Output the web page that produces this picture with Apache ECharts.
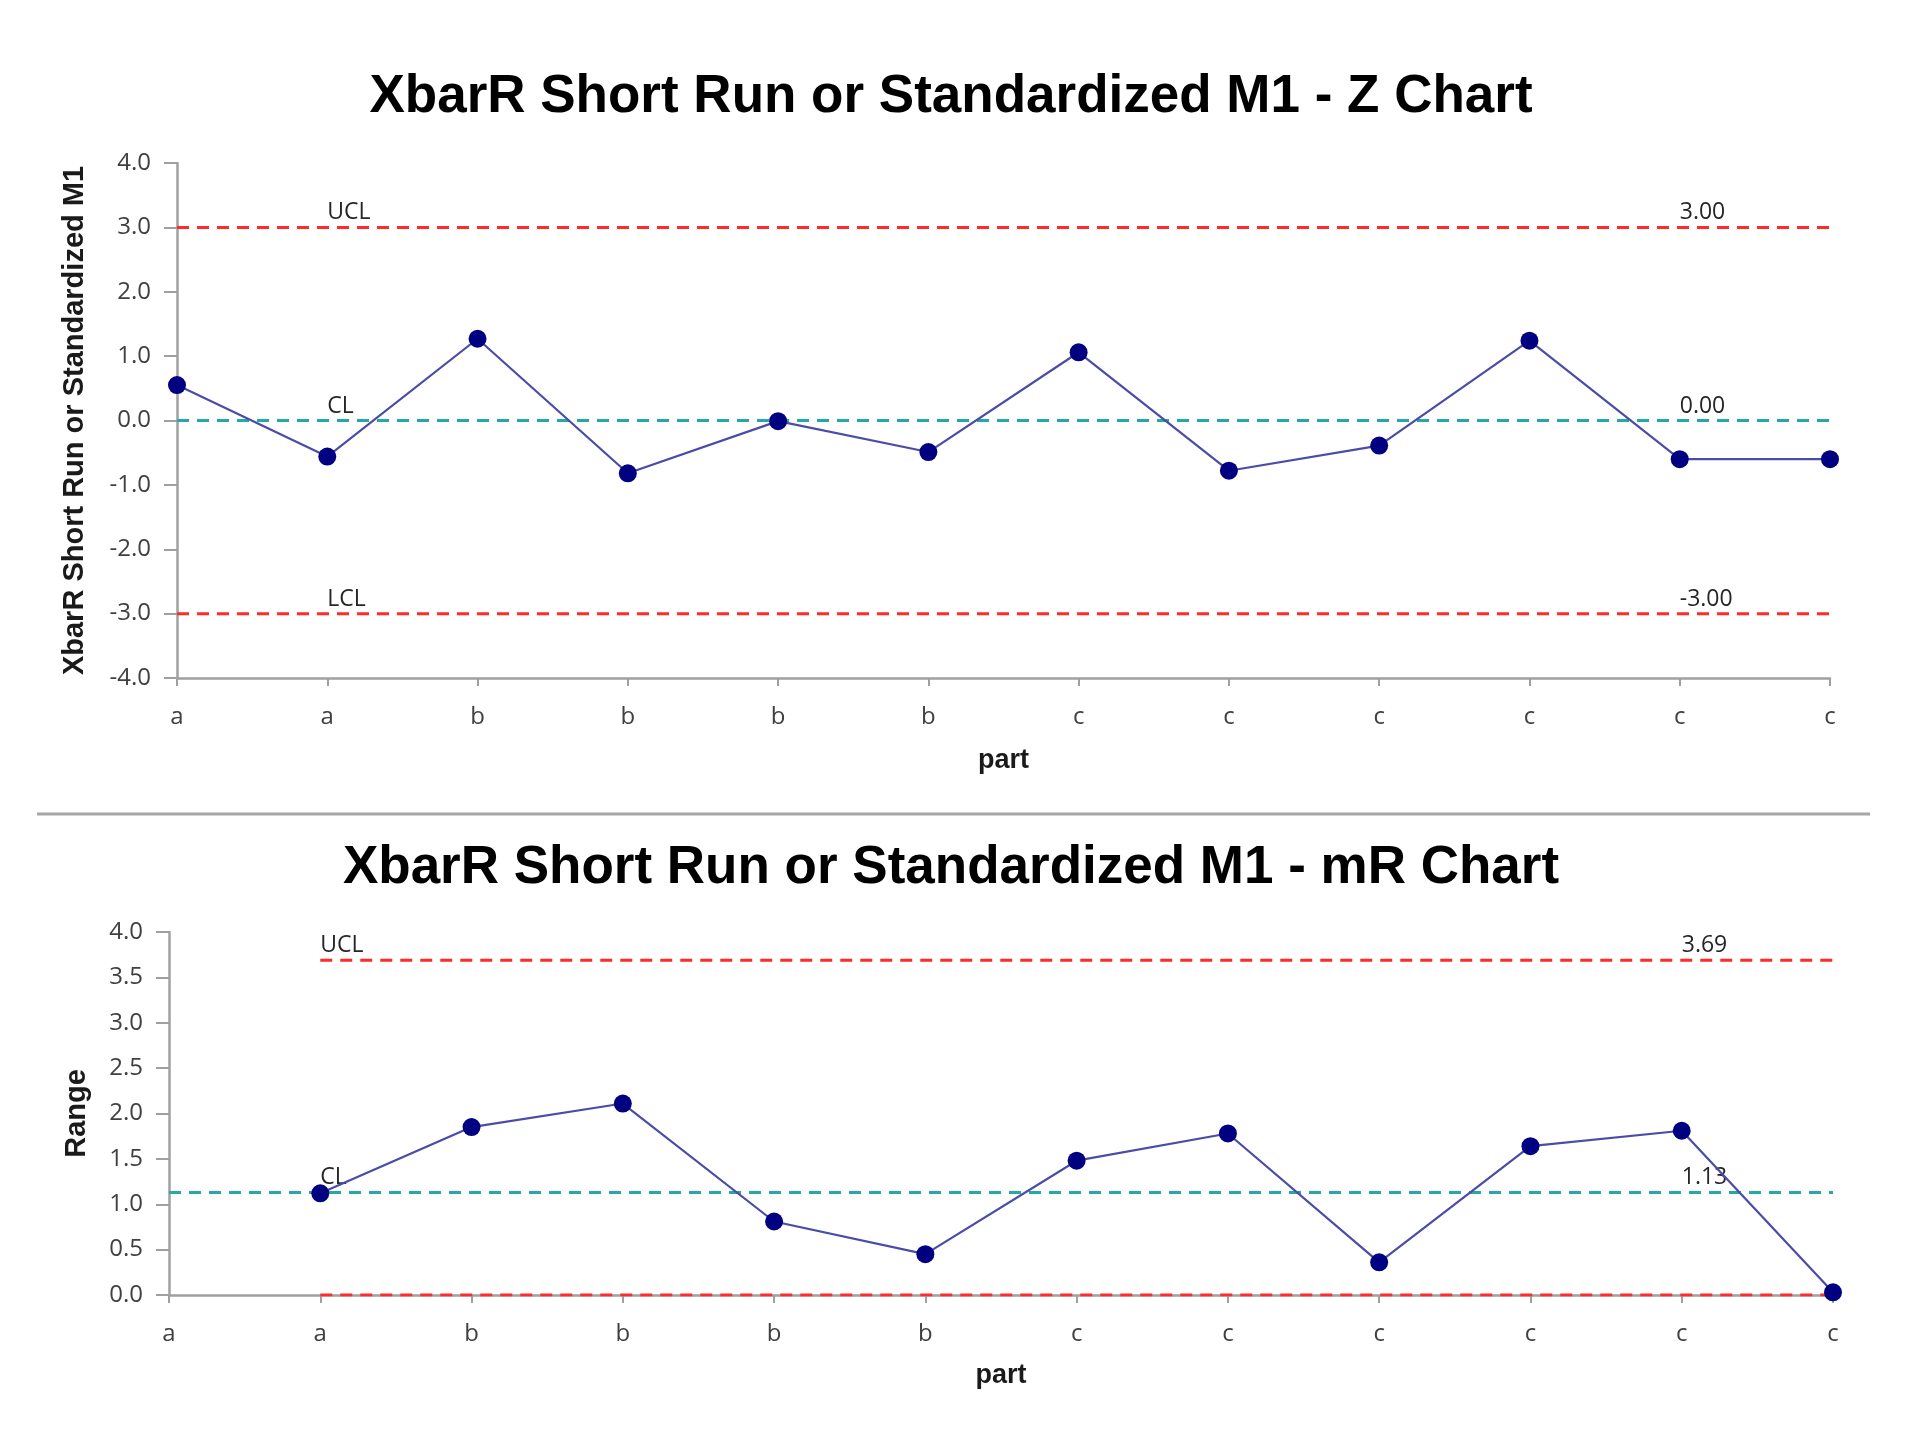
<!DOCTYPE html>
<html>
<head>
<meta charset="utf-8">
<title>XbarR Short Run Z / mR Chart</title>
<script src="https://cdn.jsdelivr.net/npm/echarts@6/dist/echarts.min.js"></script>
<style>
    html, body { margin: 0; padding: 0; background: #fff; }
    #chart { width: 1920px; height: 1453px; }
</style>
</head>
<body>
<div id="chart"></div>
<script type="text/javascript">
    // data
    var parts = ['a', 'a', 'b', 'b', 'b', 'b', 'c', 'c', 'c', 'c', 'c', 'c'];
    var zValues = [0.55, -0.56, 1.27, -0.82, -0.01, -0.49, 1.06, -0.78, -0.39, 1.24, -0.60, -0.60];
    var mrValues = [null, 1.12, 1.85, 2.11, 0.81, 0.45, 1.48, 1.78, 0.36, 1.64, 1.81, 0.03];
    var zLimits = { ucl: 3.00, cl: 0.00, lcl: -3.00 };
    var mrLimits = { ucl: 3.69, cl: 1.13, lcl: 0.00 };
    var zTicks = { min: -4, max: 4, step: 1 };
    var mrTicks = { min: 0, max: 4, step: 0.5 };

    var labelFont = 'Open Sans';
    var boldFont = 'Liberation Sans';

    // control line: constant value from index "from", with a name label and a value label
    function limitLine(xi, value, from, color, name, valueText) {
        var data = parts.map(function (p, i) {
            if (i < from) return null;
            var item = { value: value };
            if (name && i === 1) item.label = { show: true, formatter: name };
            if (valueText && i === 10) item.label = { show: true, formatter: valueText };
            return item;
        });
        return {
            type: 'line',
            xAxisIndex: xi,
            yAxisIndex: xi,
            data: data,
            symbol: 'circle',
            symbolSize: 0,
            silent: true,
            lineStyle: { color: color, width: 3, type: [12, 8] },
            itemStyle: { color: color },
            label: {
                show: false,
                position: 'top',
                align: 'left',
                distance: 3,
                color: '#262626',
                fontFamily: labelFont,
                fontSize: 23
            },
            z: 2
        };
    }

    function dataLine(xi, values) {
        return {
            type: 'line',
            xAxisIndex: xi,
            yAxisIndex: xi,
            data: values,
            symbol: 'circle',
            symbolSize: 18,
            showAllSymbol: true,
            lineStyle: { color: '#4b4ba8', width: 2.2 },
            itemStyle: { color: '#000080' },
            z: 5
        };
    }

    function catAxis(gi, gap) {
        return {
            type: 'category',
            gridIndex: gi,
            data: parts,
            boundaryGap: false,
            name: 'part',
            nameLocation: 'middle',
            nameGap: gap,
            nameTextStyle: { fontFamily: boldFont, fontWeight: 'bold', fontSize: 27, color: '#1a1a1a' },
            axisLine: { onZero: false, lineStyle: { color: '#a0a0a0', width: 2.5 } },
            axisTick: { show: true, length: 8, alignWithLabel: true, lineStyle: { color: '#a0a0a0', width: 2 } },
            axisLabel: { margin: 27, color: '#404040', fontFamily: labelFont, fontSize: 24, interval: 0 },
            splitLine: { show: false }
        };
    }

    function valAxis(gi, ticks, name, gap) {
        return {
            type: 'value',
            gridIndex: gi,
            min: ticks.min,
            max: ticks.max,
            interval: ticks.step,
            name: name,
            nameLocation: 'middle',
            nameGap: gap,
            nameTextStyle: { fontFamily: boldFont, fontWeight: 'bold', fontSize: 29, color: '#1a1a1a' },
            axisLine: { show: true, lineStyle: { color: '#a0a0a0', width: 2.5 } },
            axisTick: { show: true, length: 13, lineStyle: { color: '#a0a0a0', width: 2 } },
            axisLabel: {
                margin: 26,
                color: '#404040',
                fontFamily: labelFont,
                fontSize: 24,
                formatter: function (v) { return v.toFixed(1); }
            },
            splitLine: { show: false }
        };
    }

    var myChart = echarts.init(document.getElementById('chart'));

    option = {
        animation: false,
        backgroundColor: '#ffffff',
        title: [
            {
                text: 'XbarR Short Run or Standardized M1 - Z Chart',
                left: 946, top: 66, textAlign: 'center',
                textStyle: { fontFamily: boldFont, fontWeight: 'bold', fontSize: 53, color: '#000' }
            },
            {
                text: 'XbarR Short Run or Standardized M1 - mR Chart',
                left: 946, top: 837, textAlign: 'center',
                textStyle: { fontFamily: boldFont, fontWeight: 'bold', fontSize: 53, color: '#000' }
            }
        ],
        grid: [
            { left: 177, right: 90, top: 163, height: 515 },
            { left: 169, right: 87, top: 932, height: 363 }
        ],
        xAxis: [catAxis(0, 69), catAxis(1, 67)],
        yAxis: [
            valAxis(0, zTicks, 'XbarR Short Run or Standardized M1', 88),
            valAxis(1, mrTicks, 'Range', 78)
        ],
        graphic: [
            {
                type: 'line',
                shape: { x1: 37, y1: 814, x2: 1870, y2: 814 },
                style: { stroke: '#a6a6a6', lineWidth: 3 }
            }
        ],
        series: [
            limitLine(0, zLimits.ucl, 0, '#ff2a2a', 'UCL', zLimits.ucl.toFixed(2)),
            limitLine(0, zLimits.cl, 0, '#25a8a8', 'CL', zLimits.cl.toFixed(2)),
            limitLine(0, zLimits.lcl, 0, '#ff2a2a', 'LCL', zLimits.lcl.toFixed(2)),
            dataLine(0, zValues),
            limitLine(1, mrLimits.ucl, 1, '#ff2a2a', 'UCL', mrLimits.ucl.toFixed(2)),
            limitLine(1, mrLimits.cl, 0, '#25a8a8', 'CL', mrLimits.cl.toFixed(2)),
            limitLine(1, mrLimits.lcl, 1, '#ff2a2a', null, null),
            dataLine(1, mrValues)
        ]
    };

    myChart.setOption(option);
</script>
</body>
</html>
